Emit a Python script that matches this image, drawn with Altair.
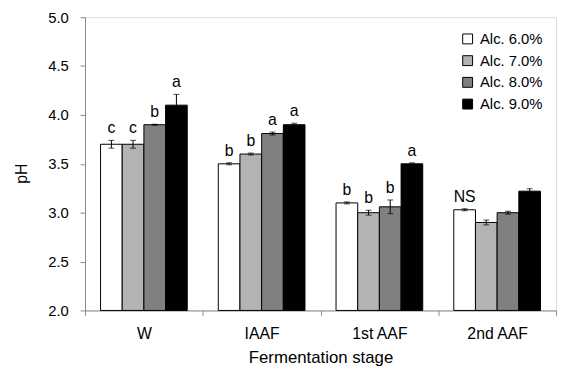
import altair as alt
import pandas as pd

stages = ["W", "IAAF", "1st AAF", "2nd AAF"]
series = ["Alc. 6.0%", "Alc. 7.0%", "Alc. 8.0%", "Alc. 9.0%"]
colors = ["#FFFFFF", "#B3B3B3", "#808080", "#000000"]

val_60 = [3.70, 3.50, 3.10, 3.03]
val_70 = [3.70, 3.60, 3.00, 2.90]
val_80 = [3.90, 3.81, 3.06, 3.00]
val_90 = [4.10, 3.90, 3.50, 3.22]

err_60 = [0.04, 0.01, 0.01, 0.01]
err_70 = [0.04, 0.01, 0.025, 0.025]
err_80 = [0.005, 0.015, 0.07, 0.015]
err_90 = [0.11, 0.015, 0.01, 0.025]

let_60 = ["c", "b", "b", "NS"]
let_70 = ["c", "b", "b", ""]
let_80 = ["b", "a", "b", ""]
let_90 = ["a", "a", "a", ""]

y_ticks = [2.0, 2.5, 3.0, 3.5, 4.0, 4.5, 5.0]

rows = []
for s, vals, errs, lets in zip(series, [val_60, val_70, val_80, val_90],
                               [err_60, err_70, err_80, err_90],
                               [let_60, let_70, let_80, let_90]):
    for st, v, e, l in zip(stages, vals, errs, lets):
        rows.append({"stage": st, "alc": s, "val": v, "err": e, "letter": l})
df = pd.DataFrame(rows)

FONT = "Liberation Sans"

x_enc = alt.X("stage:N", sort=stages,
              scale=alt.Scale(paddingInner=0, paddingOuter=0),
              axis=alt.Axis(title="Fermentation stage", labelAngle=0,
                            tickBand="extent", tickSize=5, labelPadding=10,
                            labelFontSize=16, titleFontSize=17,
                            titleY=40, titleBaseline="top",
                            titleFontWeight="normal"))
xo_enc = alt.XOffset("alc:N", sort=series,
                     scale=alt.Scale(paddingOuter=0.716, paddingInner=0))
y_scale = alt.Scale(domain=[2, 5], nice=False, zero=False, clamp=True)

base = alt.Chart(df).transform_calculate(
    hi="datum.val + datum.err", lo="datum.val - datum.err"
)

bars = base.mark_bar(stroke="black", strokeWidth=1).encode(
    x=x_enc,
    xOffset=xo_enc,
    y=alt.Y("val:Q", scale=y_scale,
            axis=alt.Axis(title="pH", values=y_ticks, format=".1f",
                          tickSize=5, labelPadding=12, labelFontSize=15,
                          titleFontSize=16, titleFontWeight="normal",
                          titleX=-56, titleY=158, grid=False)),
    y2=alt.datum(2),
    color=alt.Color("alc:N", sort=series,
                    scale=alt.Scale(domain=series, range=colors),
                    legend=alt.Legend(title=None, orient="none",
                                      legendX=380, legendY=14.5,
                                      symbolType="square", symbolSize=100,
                                      symbolStrokeColor="black",
                                      symbolStrokeWidth=1,
                                      labelFontSize=15, labelFont=FONT,
                                      labelOffset=5, rowPadding=6,
                                      padding=0)),
)

rules = base.mark_rule(color="black", strokeWidth=1).encode(
    x=alt.X("stage:N", sort=stages), xOffset=xo_enc,
    y=alt.Y("lo:Q", scale=y_scale), y2="hi:Q",
)
tick_hi = base.mark_tick(color="black", size=6, thickness=1).encode(
    x=alt.X("stage:N", sort=stages), xOffset=xo_enc,
    y=alt.Y("hi:Q", scale=y_scale),
)
tick_lo = base.mark_tick(color="black", size=6, thickness=1).encode(
    x=alt.X("stage:N", sort=stages), xOffset=xo_enc,
    y=alt.Y("lo:Q", scale=y_scale),
)
labels = base.mark_text(dy=-7, baseline="alphabetic", align="center",
                        fontSize=16, font=FONT, color="black").encode(
    x=alt.X("stage:N", sort=stages), xOffset=xo_enc,
    y=alt.Y("hi:Q", scale=y_scale),
    text="letter:N",
)

chart = alt.layer(bars, rules, tick_hi, tick_lo, labels).properties(
    width=477, height=297,
    padding={"left": 78, "top": 7, "right": 1, "bottom": 57},
    autosize=alt.AutoSizeParams(type="none"),
).configure_view(
    stroke="#7F7F7F", strokeWidth=1
).configure_axis(
    labelFont=FONT, titleFont=FONT, labelColor="black", titleColor="black",
    domainColor="black", tickColor="black", domainWidth=1, tickWidth=1,
).configure(background="white")

chart.save("out.html", embed_options={"renderer": "svg", "actions": False})
